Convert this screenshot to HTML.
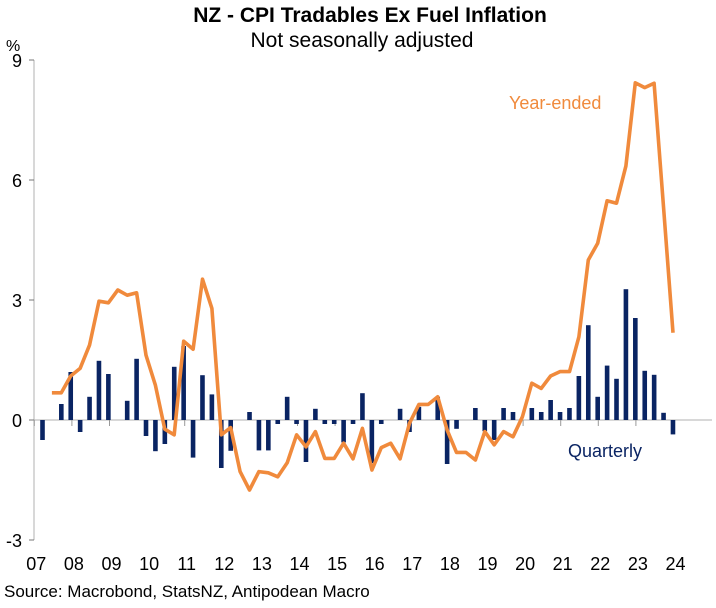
<!DOCTYPE html>
<html><head><meta charset="utf-8"><style>
body{margin:0;background:#fff;}
svg text{font-family:"Liberation Sans",Arial,sans-serif;}
</style></head><body>
<svg id="chart" width="716" height="603" viewBox="0 0 716 603" xmlns="http://www.w3.org/2000/svg">
<text x="370" y="22" text-anchor="middle" font-size="21" font-weight="bold" fill="#000">NZ - CPI Tradables Ex Fuel Inflation</text>
<text x="362" y="47" text-anchor="middle" font-size="21" fill="#000">Not seasonally adjusted</text>
<text x="6" y="51" font-size="16" fill="#000">%</text>
<text x="4" y="597" font-size="17" fill="#000">Source: Macrobond, StatsNZ, Antipodean Macro</text>
<text x="509" y="109" font-size="18" fill="#F08A3C">Year-ended</text>
<text x="568" y="457" font-size="18" fill="#0A2463">Quarterly</text>
<g id="axes"></g><g id="bars"></g><g id="line"></g><g id="ylabels"></g><g id="xlabels"></g>
</svg>
<script>
const yTicks = [-3, 0, 3, 6, 9];
const yearLabels = ["07","08","09","10","11","12","13","14","15","16","17","18","19","20","21","22","23","24"];
const quarterly = [-0.5,0,0.4,1.2,-0.3,0.58,1.48,1.15,0,0.48,1.53,-0.4,-0.78,-0.6,1.33,1.85,-0.94,1.12,0.64,-1.2,-0.77,0,0.2,-0.76,-0.76,-0.1,0.58,-0.1,-1.05,0.28,-0.1,-0.1,-0.56,-0.1,0.67,-1.08,-0.1,0,0.28,-0.3,0.33,0,0.58,-1.1,-0.22,0,0.3,-0.28,-0.5,0.3,0.2,0,0.3,0.2,0.5,0.2,0.3,1.1,2.37,0.58,1.36,1.03,3.27,2.55,1.23,1.13,0.18,-0.36];
const yearEnded = [null,0.68,0.68,1.1,1.29,1.87,2.97,2.93,3.25,3.12,3.18,1.62,0.87,-0.23,-0.37,1.97,1.77,3.52,2.79,-0.37,-0.19,-1.29,-1.75,-1.29,-1.32,-1.42,-1.07,-0.37,-0.67,-0.29,-0.96,-0.96,-0.58,-0.97,-0.21,-1.25,-0.69,-0.58,-0.97,-0.08,0.39,0.39,0.58,-0.25,-0.81,-0.81,-1.0,-0.29,-0.62,-0.29,-0.42,0.08,0.92,0.79,1.1,1.21,1.21,2.08,4.0,4.42,5.48,5.42,6.35,8.43,8.31,8.42,5.3,2.18];

const NS="http://www.w3.org/2000/svg";
const y=v=>420-40*v;
const xq=i=>42.5+9.41*i;
const xy=k=>36.3+37.6*k;
function mk(tag,attrs,parent,text){const e=document.createElementNS(NS,tag);for(const k in attrs)e.setAttribute(k,attrs[k]);if(text!==undefined)e.textContent=text;document.getElementById(parent).appendChild(e);return e;}

let e=mk("line",{x1:34,y1:y(9),x2:34,y2:y(-3),stroke:"#b0b0b0","stroke-width":1},"axes");


e=mk("line",{x1:30,y1:y(0),x2:712,y2:y(0),stroke:"#b0b0b0","stroke-width":1},"axes");


yTicks.forEach(t=>{
  const tk=mk("line",{x1:29,y1:y(t),x2:34,y2:y(t),stroke:"#777","stroke-width":1},"axes");
  
  
  const lb=mk("text",{x:22,y:y(t)+7,"text-anchor":"end","font-size":18,fill:"#000"},"ylabels",String(t));
  
  
});
yearLabels.forEach((l,k)=>{
  const lb=mk("text",{x:xy(k),y:570,"text-anchor":"middle","font-size":18,fill:"#000"},"xlabels",l);
  
  
  const tk=mk("line",{x1:xy(k)-2,y1:420,x2:xy(k)-2,y2:426,stroke:"#999","stroke-width":1},"axes");
  
  
});
quarterly.forEach((v,i)=>{
  if(v===0)return;
  const top=Math.min(y(v),y(0)),h=Math.abs(y(v)-y(0));
  const b=mk("rect",{x:xq(i)-2.3,y:top,width:4.6,height:h,fill:"#0A2463"},"bars");
  
  
});
let d="";
yearEnded.forEach((v,i)=>{if(v===null)return;d+=(d?"L":"M")+xq(i).toFixed(1)+","+y(v).toFixed(1);});
const p=mk("path",{d:d,fill:"none",stroke:"#F08A3C","stroke-width":3.6,"stroke-linejoin":"round"},"line");


</script>
</body></html>
